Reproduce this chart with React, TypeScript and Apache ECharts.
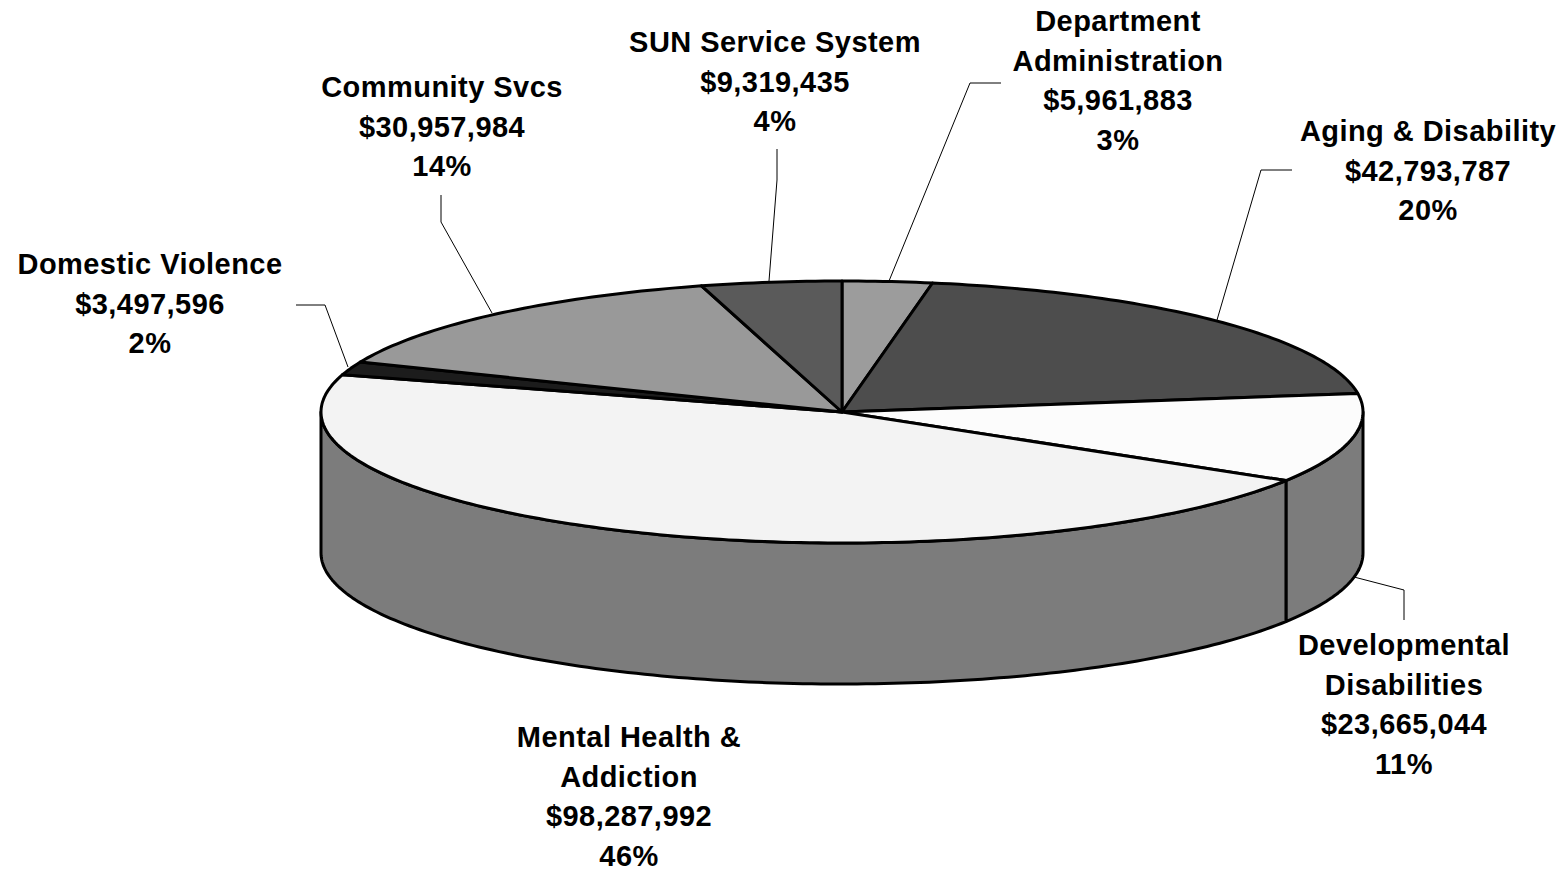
import React, { useEffect, useRef } from "react";
import * as echarts from "echarts";

const names = [
  "Department\nAdministration",
  "Aging & Disability",
  "Developmental\nDisabilities",
  "Mental Health &\nAddiction",
  "Domestic Violence",
  "Community Svcs",
  "SUN Service System",
];
const values = [5961883, 42793787, 23665044, 98287992, 3497596, 30957984, 9319435];
const topColors = ["#9c9c9c", "#4d4d4d", "#fcfcfc", "#f3f3f3", "#1c1c1c", "#999999", "#5a5a5a"];
const wallColor = "#7c7c7c";

// label layout: centre x, y of first line's middle
const labelAnchors = [
  [1118, 21],
  [1428, 131],
  [1404, 645],
  [629, 737],
  [150, 264],
  [442, 87],
  [775, 42],
];
const LINE_STEP = 39.7;
const leaderLines = [
  [[1001, 83], [970, 83], [889, 281]],
  [[1292, 170], [1261, 170], [1217, 320]],
  [[1354, 577], [1404, 590], [1404, 620]],
  [],
  [[296, 305], [325, 305], [348, 367]],
  [[441, 195], [441, 222], [492, 313]],
  [[777, 149], [777, 180], [769, 281]],
];

const CX = 842;
const CY = 412;
const RX = 521;
const RY = 131;
const DEPTH = 141;
const FONT = "'Liberation Sans', Arial, sans-serif";

const total = values.reduce((a, b) => a + b, 0);
const startAngle = (i: number) =>
  (values.slice(0, i).reduce((a, b) => a + b, 0) / total) * 360;
const pt = (deg: number, dy = 0) => {
  const r = (deg * Math.PI) / 180;
  return [CX + RX * Math.sin(r), CY - RY * Math.cos(r) + dy];
};
const arc = (a: number, b: number, dy = 0) => {
  const pts: number[][] = [];
  const n = Math.max(2, Math.ceil(Math.abs(b - a)));
  for (let k = 0; k <= n; k++) pts.push(pt(a + ((b - a) * k) / n, dy));
  return pts;
};

const renderWall = (params: any) => {
  const i = params.dataIndex;
  const a = Math.max(startAngle(i), 90);
  const b = Math.min(startAngle(i + 1), 270);
  if (b <= a) return { type: "group", children: [] };
  const points = [...arc(a, b), ...arc(b, a, DEPTH)];
  return {
    type: "polygon",
    shape: { points },
    style: { fill: wallColor, stroke: "#000", lineWidth: 3, lineJoin: "round" },
  };
};

const renderTop = (params: any) => {
  const i = params.dataIndex;
  const points = [[CX, CY], ...arc(startAngle(i), startAngle(i + 1))];
  return {
    type: "polygon",
    shape: { points },
    style: { fill: topColors[i], stroke: "#000", lineWidth: 3, lineJoin: "round" },
  };
};

const labelLines = (i: number) => [
  ...names[i].split("\n"),
  `$${values[i].toLocaleString("en-US")}`,
  `${Math.round((values[i] / total) * 100)}%`,
];

export default function App() {
  const ref = useRef<HTMLDivElement>(null);
  useEffect(() => {
    document.body.style.margin = "0";
    const chart = echarts.init(ref.current!, null, { renderer: "svg" });
    chart.setOption({
      animation: false,
      backgroundColor: "#ffffff",
      series: [
        { type: "custom", coordinateSystem: "none", silent: true, data: values, renderItem: renderWall, z: 1 },
        { type: "custom", coordinateSystem: "none", silent: true, data: values, renderItem: renderTop, z: 2 },
      ],
      graphic: [
        ...leaderLines
          .filter((l) => l.length)
          .map((points) => ({
            type: "polyline",
            silent: true,
            z: 3,
            shape: { points },
            style: { fill: "none", stroke: "#000", lineWidth: 1 },
          })),
        ...names.flatMap((_, i) =>
          labelLines(i).map((text, k) => ({
            type: "text",
            silent: true,
            z: 4,
            x: labelAnchors[i][0],
            y: labelAnchors[i][1] + k * LINE_STEP,
            style: {
              text,
              fill: "#000",
              font: `bold 29px ${FONT}`,
              align: "center",
              verticalAlign: "middle",
            },
          }))
        ),
      ],
    });
    return () => chart.dispose();
  }, []);
  return <div ref={ref} style={{ width: 1568, height: 871, letterSpacing: "0.45px" }} />;
}
